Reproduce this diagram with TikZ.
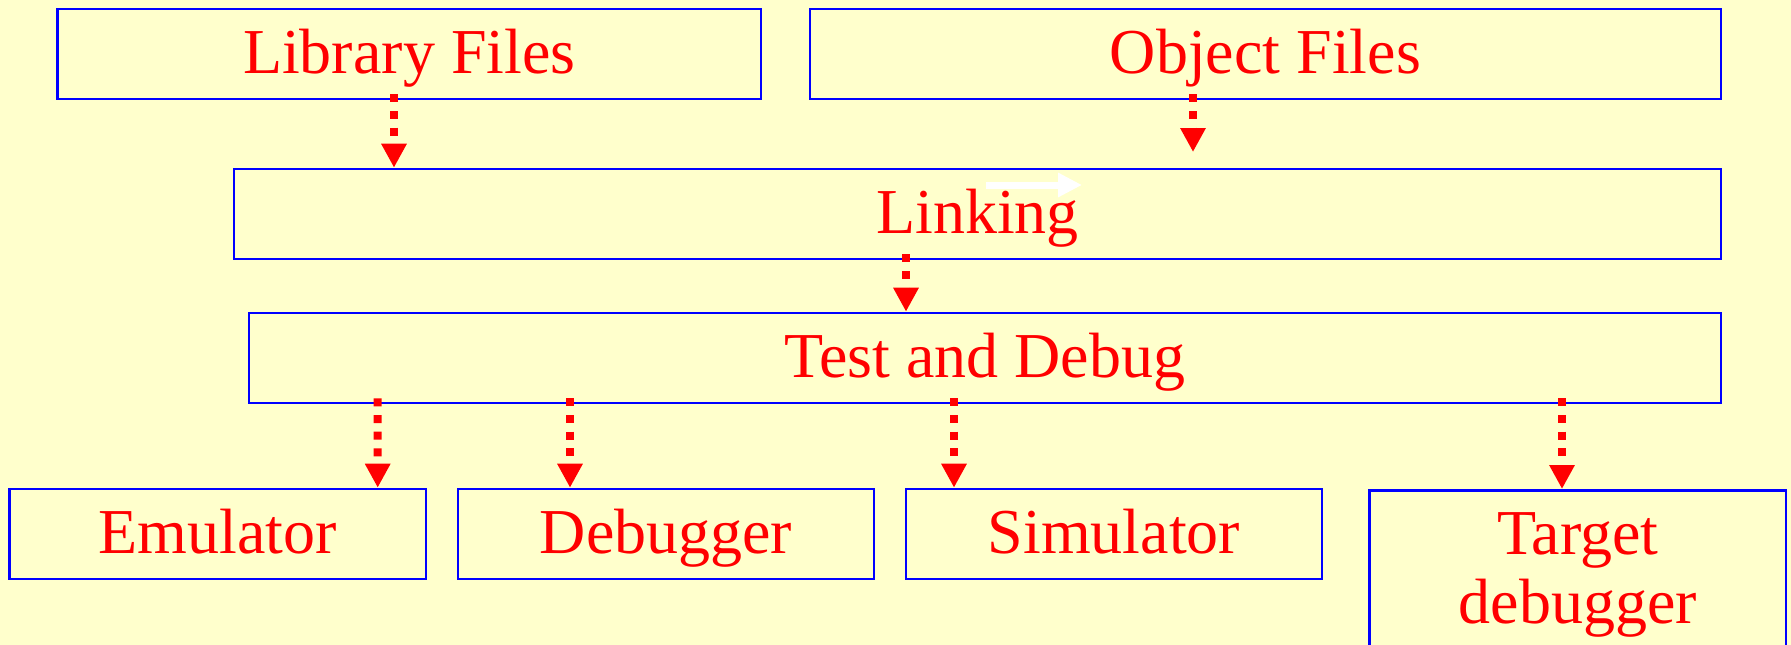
\documentclass[tikz,border=0pt]{standalone}
\usepackage{fontspec}
\setmainfont{Liberation Serif}
\usetikzlibrary{arrows.meta}
\definecolor{paper}{RGB}{255,255,204}
\definecolor{frame}{RGB}{0,0,255}
\definecolor{ink}{RGB}{255,0,0}
\tikzset{
  stage/.style={draw=frame, line width=2.6pt, rectangle, inner sep=0pt,
    minimum height=90pt, text=ink, font=\fontsize{64}{69}\selectfont,
    text height=48pt, text depth=10pt},
  flow/.style={draw=ink, line width=8pt, line cap=butt,
    dash pattern=on 8pt off 8.7pt,
    -{Triangle[length=24pt,width=24pt]}},
}
\begin{document}
\begin{tikzpicture}[x=1pt, y=-1pt]
  % page and background
  \fill[paper] (0,0) rectangle (1791,645);
  \useasboundingbox (0,0) rectangle (1791,645);

  % input files
  \node[stage, minimum width=703.5pt] (lib) at (409.25,54) {Library Files};
  \node[stage, minimum width=911pt]   (obj) at (1265.5,54) {Object Files};

  % linking and test stages
  \node[stage, minimum width=1487pt] (link) at (977.5,214) {Linking};
  \node[stage, minimum width=1472pt] (test) at (985,358)   {Test and Debug};

  % debugging tools
  \node[stage, minimum width=416.5pt] (emu) at (217.6,534) {Emulator};
  \node[stage, minimum width=416pt]   (dbg) at (666,534)   {Debugger};
  \node[stage, minimum width=416pt]   (sim) at (1114,534)  {Simulator};
  \node[stage, minimum width=416.5pt, minimum height=180pt, anchor=north]
        (tgt) at (1577.75,489) {};
  \node[text=ink, font=\fontsize{64}{69}\selectfont, align=center,
        anchor=north, inner sep=0pt] (tgtlabel) at (1577.75,512.5)
        {Target\\debugger};

  % small white arrow inside the linking box
  \coordinate (wa) at (986,185);
  \coordinate (wb) at (1082,185);
  \draw[white, line width=7pt, -{Triangle[length=24pt,width=23pt]}] (wa) -- (wb);

  % connectors
  \coordinate (objend) at (1193,152);
  \draw[flow] ([xshift=-15.25pt, yshift=6pt]lib.south) -- ([xshift=-583.5pt]link.north);
  \draw[flow] ([xshift=-72.5pt, yshift=6pt]obj.south) -- (objend);
  \draw[flow] ([xshift=-71.5pt, yshift=6pt]link.south) -- ([xshift=-79pt]test.north);
  \draw[flow] ([xshift=-607.3pt, yshift=6pt]test.south) -- ([xshift=160.1pt]emu.north);
  \draw[flow] ([xshift=-415pt, yshift=6pt]test.south) -- ([xshift=-96pt]dbg.north);
  \draw[flow] ([xshift=-31pt, yshift=6pt]test.south) -- ([xshift=-160pt]sim.north);
  \draw[flow] ([xshift=577pt, yshift=6pt]test.south) -- ([xshift=-15.75pt]tgt.north);
\end{tikzpicture}
\end{document}
